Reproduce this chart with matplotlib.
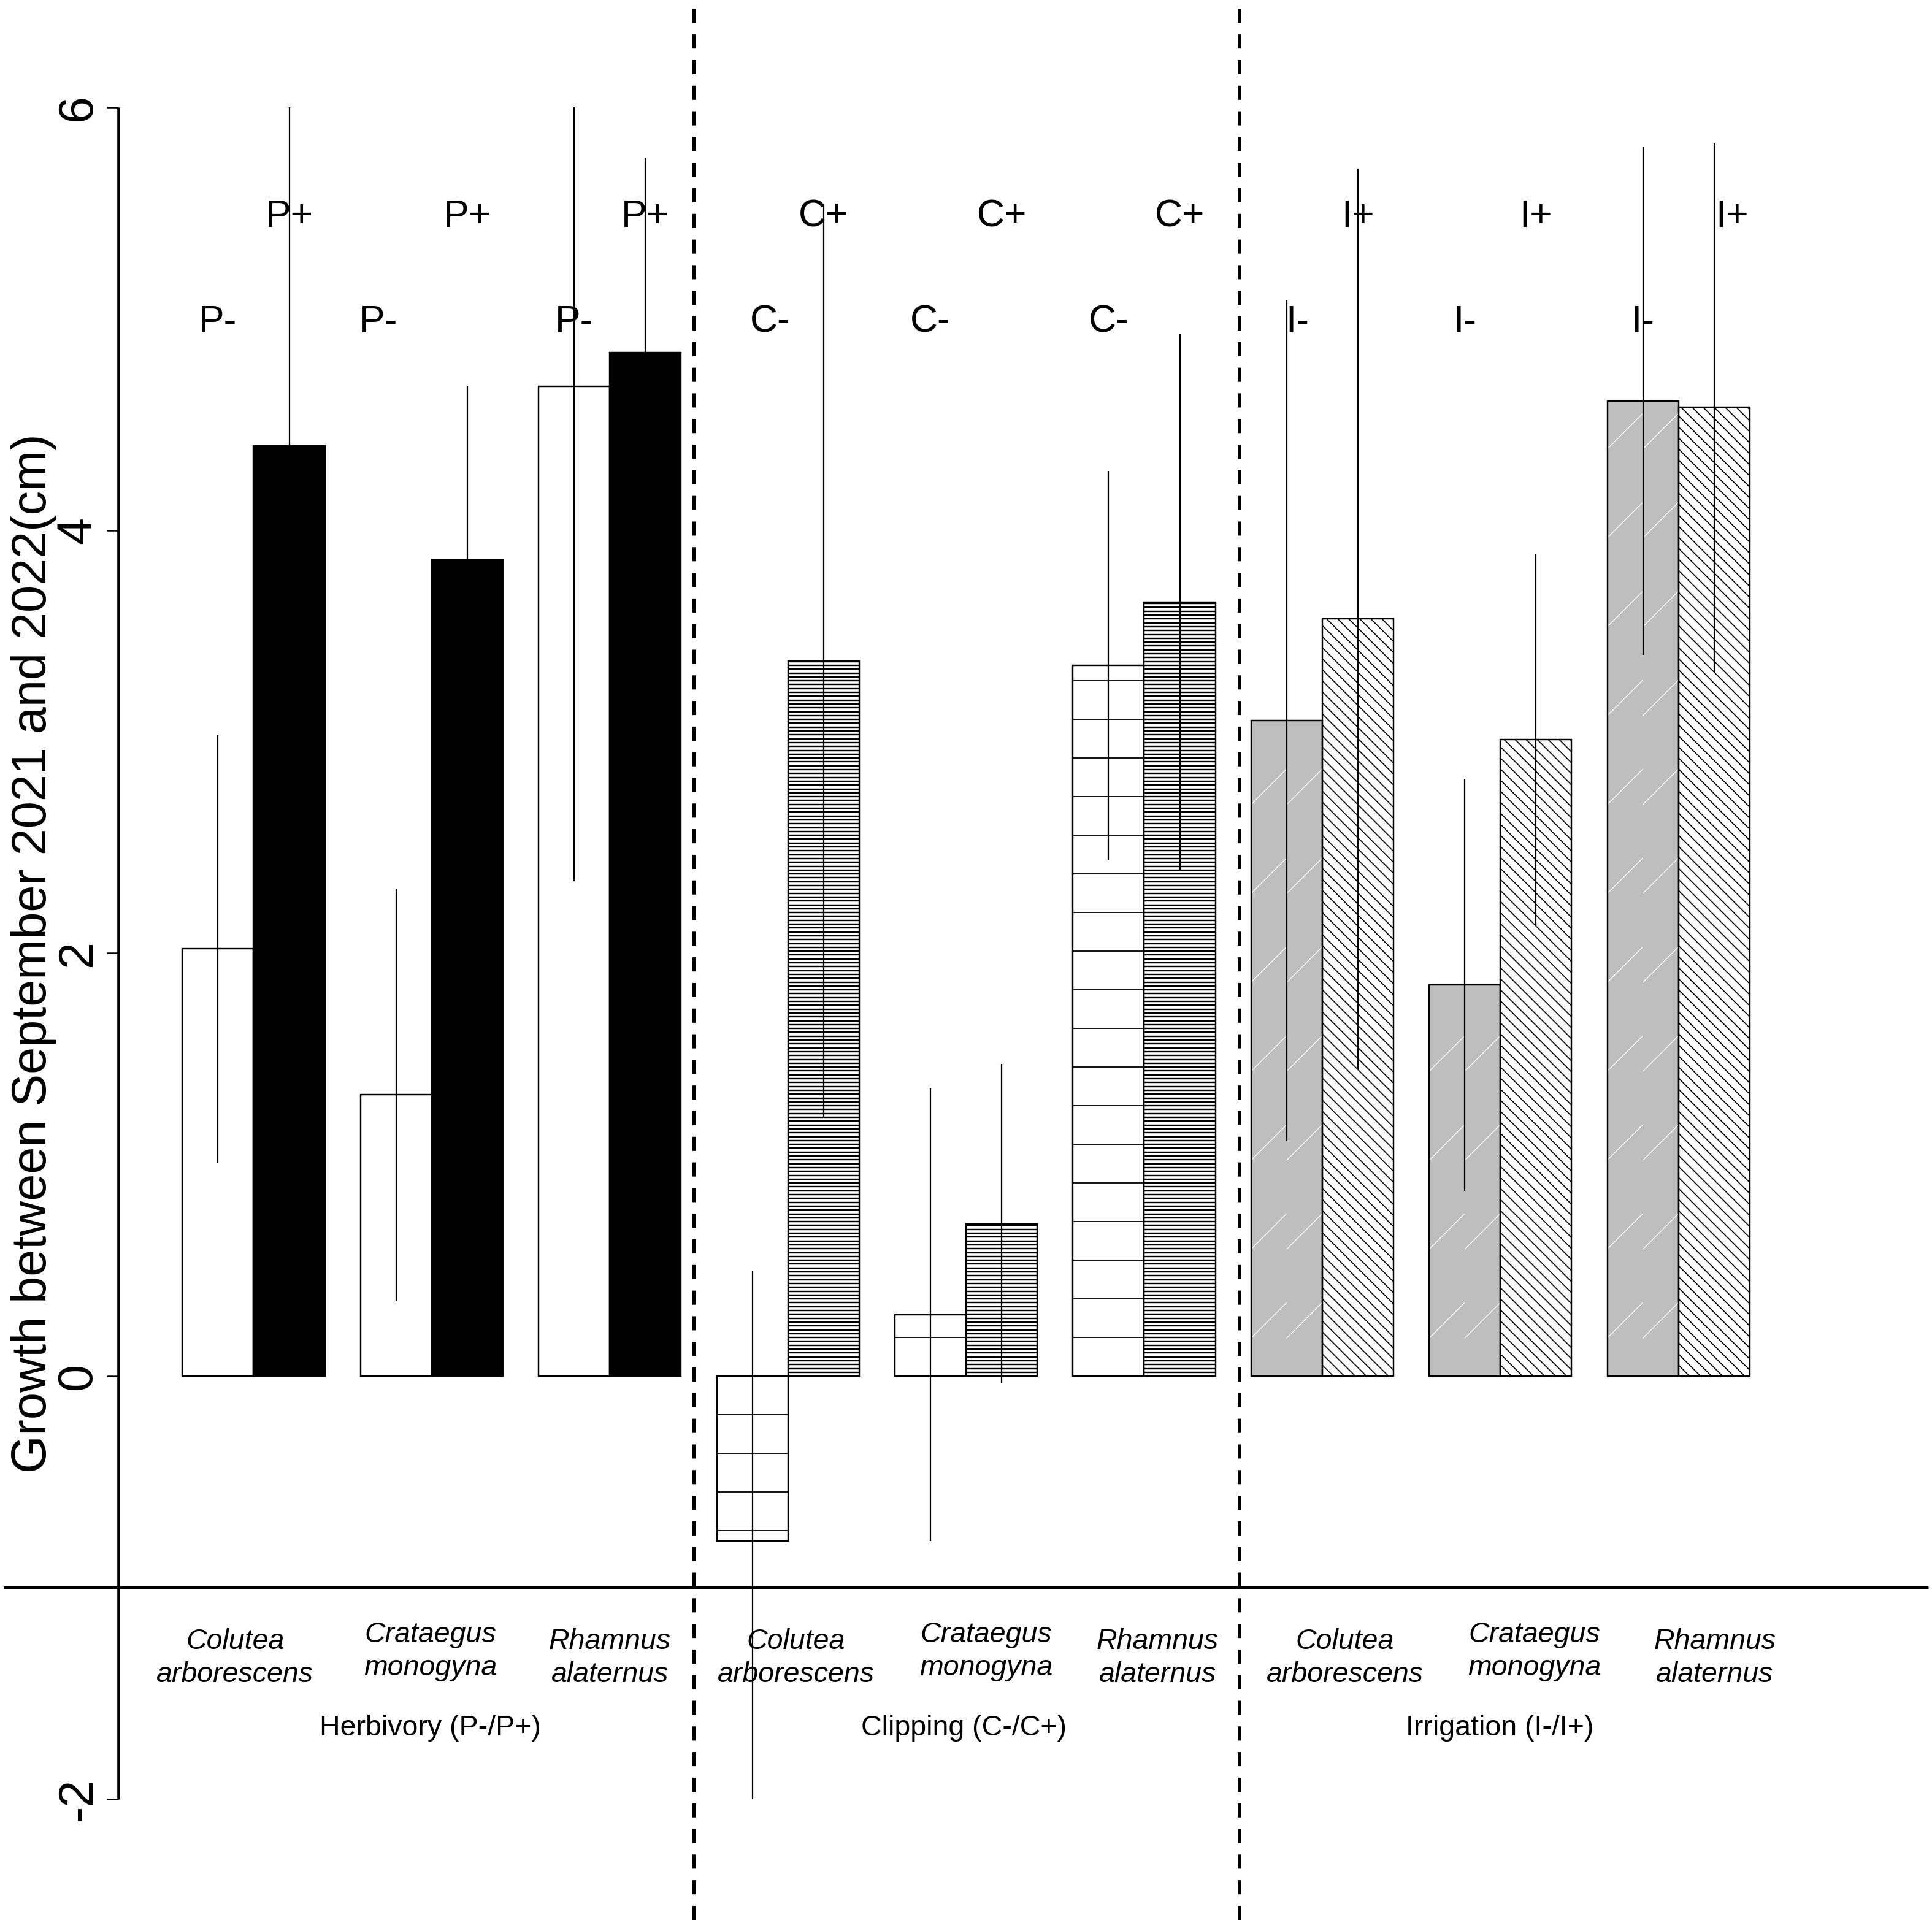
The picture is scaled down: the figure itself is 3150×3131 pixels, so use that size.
import numpy as np
import matplotlib
matplotlib.use("Agg")
import matplotlib.pyplot as plt
from matplotlib.patches import Rectangle
from matplotlib.collections import LineCollection

plt.rcParams['font.family'] = ['Liberation Sans', 'DejaVu Sans']
plt.rcParams['lines.scale_dashes'] = False

# --- data ---
species = ["Colutea\narborescens", "Crataegus\nmonogyna", "Rhamnus\nalaternus"]
treatments = ["Herbivory (P-/P+)", "Clipping (C-/C+)", "Irrigation (I-/I+)"]
codes = [("P-", "P+"), ("C-", "C+"), ("I-", "I+")]
# groups ordered treatment by treatment, species inside
mean_minus = [2.02, 1.33, 4.68, -0.78, 0.29, 3.36, 3.10, 1.85, 4.61]
mean_plus = [4.40, 3.86, 4.84, 3.38, 0.72, 3.66, 3.58, 3.01, 4.58]
se_minus = [1.01, 0.975, 2.34, 1.28, 1.07, 0.92, 1.99, 0.975, 1.20]
se_plus = [1.80, 0.82, 0.92, 2.16, 0.755, 1.27, 2.13, 0.875, 1.25]
yticks = [-2, 0, 2, 4, 6]
ylabel = "Growth between September 2021 and 2022(cm)"

# --- layout ---
W, H, DPI = 3150, 3131, 100
xlim = (-2.0597, 25.058)
ylim = (-2.5715, 6.5066)
sx = W / (xlim[1] - xlim[0])   # px per x unit
sy = H / (ylim[1] - ylim[0])   # px per y unit

n = len(mean_minus)
x_minus = np.array([1 + 2.5 * g for g in range(n)])
x_plus = x_minus + 1
code_x = [1, 2, 3.25, 4.5, 6, 7, 8.75, 9.5, 11, 12, 13.5, 14.5, 16.15, 17, 18.5, 19.5, 21, 22.25]
species_x = [1.24, 3.98, 6.50, 9.11, 11.78, 14.19, 16.82, 19.48, 22.01]
species_raise = [0.0, 0.031, 0.0]
treat_x = [3.98, 11.47, 18.99]
dash_x = [7.688, 15.335]
plot_x = (-2.008, 25.006)
axis_x = -0.399

fig = plt.figure(figsize=(W / DPI, H / DPI), dpi=DPI)
ax = fig.add_axes([0, 0, 1, 1])
ax.set_xlim(*xlim)
ax.set_ylim(*ylim)
ax.axis('off')


def hatch_bar(patch, x0, x1, y0, y1, kind, spacing, color, lw, phase=0.0):
    lo, hi = min(y0, y1), max(y0, y1)
    segs = []
    if kind == '-':
        for k in range(int(np.floor(lo * sy / spacing)) - 1, int(np.ceil(hi * sy / spacing)) + 2):
            y = k * spacing / sy
            if lo < y < hi:
                segs.append([(x0, y), (x1, y)])
    else:
        s = 1 if kind == '/' else -1
        w = (x1 - x0) * sx
        cmin = lo * sy - max(s * w, 0)
        cmax = hi * sy - min(s * w, 0)
        for k in range(int(np.floor((cmin - phase) / spacing)) - 1,
                       int(np.ceil((cmax - phase) / spacing)) + 2):
            c = phase + k * spacing
            segs.append([(x0, c / sy), (x1, (c + s * w) / sy)])
    lc = LineCollection(segs, colors=color, linewidths=lw, zorder=2)
    ax.add_collection(lc)
    # clip to the bar (after adding, so the axes does not reset it)
    lc.set_clip_path(patch)


# fill colours per treatment: (minus, plus)
fills = [("white", "black"), ("white", "white"), ("#BEBEBE", "white")]

for g in range(n):
    t = g // 3
    for xc, m, fc, side in ((x_minus[g], mean_minus[g], fills[t][0], 0),
                            (x_plus[g], mean_plus[g], fills[t][1], 1)):
        bar = ax.bar(xc, m, width=1, color=fc, edgecolor='black', linewidth=1.6, zorder=1)[0]
        x0, x1 = xc - 0.5, xc + 0.5
        if t == 1:
            hatch_bar(bar, x0, x1, 0, m, '-', 63 if side == 0 else 6.3, 'black',
                      1.3 if side == 0 else 1.7)
        elif t == 2 and side == 0:
            hatch_bar(bar, x0, xc, 0, m, '/', 145, 'white', 0.9, phase=62)
            hatch_bar(bar, xc, x1, 0, m, '/', 145, 'white', 0.9, phase=62)
        elif t == 2:
            hatch_bar(bar, x0, x1, 0, m, '\\', 18, 'black', 1.2)
        ax.bar(xc, m, width=1, fill=False, edgecolor='black', linewidth=1.6, zorder=2.5)

# error bars, clipped to the plot region
clip = Rectangle((plot_x[0], -2), plot_x[1] - plot_x[0], 8, transform=ax.transData)
mm, pm = np.array(mean_minus), np.array(mean_plus)
sm, sp = np.array(se_minus), np.array(se_plus)
for xs, m, s in ((x_minus, mm, sm), (x_plus, pm, sp)):
    vl = ax.vlines(xs, m - s, m + s, colors='black', linewidth=1.6, zorder=3)
    vl.set_clip_path(clip)

# y axis
ax.plot([axis_x, axis_x], [-2, 6], color='black', lw=3.3, solid_capstyle='butt', zorder=4)
ax.hlines(yticks, axis_x - 0.163, axis_x, colors='black', lw=1.8, zorder=4)
for t in yticks:
    ax.text(-0.7855, t, str(t), rotation=90, rotation_mode='anchor',
            ha='center', va='baseline', fontsize=57)
ax.text(-1.410, 2, ylabel, rotation=90, rotation_mode='anchor',
        ha='center', va='baseline', fontsize=57)

# reference lines
ax.hlines(-1, plot_x[0], plot_x[1], colors='black', lw=3.6, zorder=4)
for v in dash_x:
    ax.axvline(v, color='black', lw=4.3, ls=(0, (16.6, 13.5)), zorder=4)

# treatment codes above bars (centred on cap height)
code_fs = 45
cap_off = 0.358 * code_fs / 72 * DPI / sy
labels = [c for g in range(n) for c in codes[g // 3]]
for i, (lab, x) in enumerate(zip(labels, code_x)):
    level = 5.0 if i % 2 == 0 else 5.5
    ax.text(x, level - cap_off, lab, ha='center', va='baseline', fontsize=code_fs, zorder=5)

# species and treatment names under the axis
for g, x in enumerate(species_x):
    l1, l2 = species[g % 3].split("\n")
    r = species_raise[g % 3]
    ax.text(x, -1.290 + r, l1, ha='center', va='baseline', fontsize=33.5, style='italic')
    ax.text(x, -1.447 + r, l2, ha='center', va='baseline', fontsize=33.5, style='italic')
for lab, x in zip(treatments, treat_x):
    ax.text(x, -1.699, lab, ha='center', va='baseline', fontsize=33.5)

fig.savefig("out.png", dpi=DPI)
